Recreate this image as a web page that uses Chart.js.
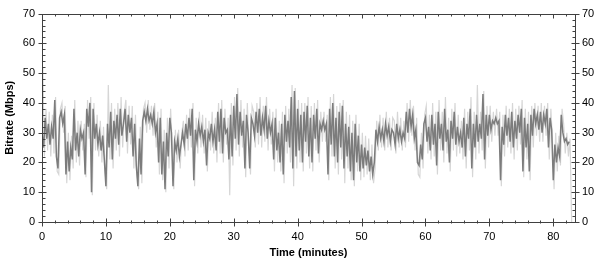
<!DOCTYPE html>
<html>
<head>
<meta charset="utf-8">
<script src="https://cdn.jsdelivr.net/npm/chart.js@4"></script>
<style>
  html, body { margin: 0; padding: 0; background: #fff; }
  #wrap { width: 600px; height: 264px; }
</style>
</head>
<body>
<div id="wrap"><canvas id="bitrate"></canvas></div>
<script>
// sample spacing of the two series, in minutes
const smoothStep = 0.25;
const rawStep = 0.25;
const rawStart = 0.125;

// smoothed bitrate (Mbps), 4 samples per minute
const smoothMbps = [
  30, 25, 35, 28,  33, 26, 32, 28,  41, 22, 18, 35,  37, 33, 36, 16,
  27, 17, 25, 21,  38, 24, 30, 22,  31, 28, 30, 16,  38, 32, 40, 10,
  38, 28, 33, 26,  30, 24, 29, 21,  12, 33, 25, 37,  21, 34, 28, 36,
  26, 38, 29, 33,  38, 27, 36, 30,  35, 22, 33, 19,  12, 28, 16, 34,
  37, 34, 38, 34,  36, 33, 37, 30,  33, 20, 35, 16,  27, 11, 30, 22,
  35, 30, 12, 27,  24, 28, 22, 26,  30, 26, 33, 28,  35, 29, 38, 14,
  31, 27, 33, 29,  32, 27, 31, 19,  30, 28, 33, 27,  31, 24, 37, 27,
  38, 23, 35, 30,  31, 21, 36, 22,  39, 28, 43, 26,  37, 29, 34, 18,
  36, 30, 18, 35,  33, 29, 37, 30,  38, 29, 35, 31,  39, 28, 34, 30,
  33, 21, 35, 24,  30, 20, 33, 16,  36, 27, 34, 25,  42, 18, 44, 22,
  38, 24, 36, 20,  37, 27, 39, 22,  35, 20, 36, 28,  38, 23, 33, 31,
  34, 31, 33, 16,  38, 26, 40, 22,  35, 20, 37, 25,  39, 18, 33, 22,
  32, 17, 30, 14,  33, 20, 29, 17,  26, 18, 25, 19,  24, 17, 22, 16,
  20, 31, 27, 32,  28, 31, 27, 33,  29, 32, 27, 31,  30, 26, 33, 28,
  31, 27, 30, 28,  37, 30, 38, 32,  36, 28, 31, 20,  19, 26, 21, 33,
  35, 27, 32, 24,  36, 26, 33, 19,  37, 28, 33, 24,  38, 27, 31, 20,
  34, 28, 37, 26,  32, 27, 30, 25,  35, 22, 33, 28,  38, 18, 33, 25,
  36, 27, 33, 28,  43, 21, 36, 29,  36, 31, 34, 33,  35, 33, 34, 14,
  32, 26, 36, 29,  35, 27, 37, 25,  34, 28, 36, 30,  38, 17, 35, 25,
  33, 17, 36, 29,  38, 33, 36, 31,  37, 30, 36, 33,  38, 25, 35, 31,
  14, 26, 20, 25,  22, 36, 30, 27,  28, 26, 27
];

// raw bitrate (Mbps), 4 samples per minute, between the smoothed ones
const rawMbps = [
  52, 22, 38, 24,  37, 22, 36, 23,  42, 17, 16, 38,  40, 30, 39, 13,
  30, 14, 29, 18,  41, 20, 34, 19,  34, 24, 33, 15,  41, 28, 42, 9,
  40, 24, 36, 22,  34, 20, 32, 17,  11, 46, 21, 40,  18, 38, 24, 40,
  22, 42, 25, 37,  41, 23, 39, 26,  39, 18, 36, 16,  11, 32, 13, 38,
  40, 30, 41, 31,  39, 29, 40, 25,  37, 16, 38, 14,  31, 10, 35, 18,
  38, 26, 11, 31,  20, 31, 18, 30,  34, 22, 36, 24,  38, 25, 40, 12,
  35, 23, 37, 25,  36, 23, 35, 17,  34, 24, 37, 23,  35, 20, 40, 23,
  41, 20, 38, 26,  35, 9, 40, 19,   42, 24, 45, 22,  41, 25, 38, 15,
  40, 26, 16, 39,  37, 25, 40, 26,  42, 25, 39, 27,  42, 24, 38, 26,
  37, 17, 38, 20,  34, 17, 37, 13,  39, 23, 38, 20,  46, 12, 45, 18,
  41, 20, 40, 17,  40, 23, 42, 18,  39, 17, 40, 24,  41, 20, 37, 27,
  37, 27, 36, 14,  42, 22, 43, 18,  39, 16, 40, 21,  41, 13, 37, 18,
  36, 14, 34, 12,  36, 17, 33, 14,  30, 15, 29, 16,  28, 14, 26, 13,
  18, 34, 24, 36,  25, 35, 24, 37,  25, 35, 24, 35,  34, 23, 37, 25,
  35, 24, 34, 25,  40, 27, 41, 29,  39, 24, 35, 16,  15, 30, 18, 36,
  39, 23, 36, 21,  40, 22, 37, 16,  41, 24, 37, 20,  42, 23, 35, 17,
  38, 24, 40, 22,  36, 23, 34, 21,  38, 18, 37, 24,  42, 15, 37, 21,
  46, 23, 37, 24,  44, 18, 39, 25,  39, 27, 37, 29,  38, 29, 37, 12,
  36, 22, 39, 25,  38, 23, 40, 21,  38, 24, 39, 26,  41, 15, 38, 21,
  37, 14, 39, 25,  40, 29, 39, 27,  40, 27, 39, 29,  40, 21, 38, 27,
  11, 30, 17, 29,  19, 38, 33, 23,  30, 22, 28, 0
];

const xMajor = [0, 10, 20, 30, 40, 50, 60, 70, 80];
const xMinor = [2, 4, 6, 8, 12, 14, 16, 18, 22, 24, 26, 28, 32, 34, 36, 38, 42, 44, 46, 48,
                52, 54, 56, 58, 62, 64, 66, 68, 72, 74, 76, 78, 82];
const yMajor = [0, 10, 20, 30, 40, 50, 60, 70];
const yMinor = [2, 4, 6, 8, 12, 14, 16, 18, 22, 24, 26, 28, 32, 34, 36, 38, 42, 44, 46, 48,
                52, 54, 56, 58, 62, 64, 66, 68];
const xMax = 83.4;

const smoothPts = smoothMbps.map((v, i) => ({ x: i * smoothStep, y: v }));
const rawPts = rawMbps.map((v, i) => ({ x: rawStart + i * rawStep, y: v }));

const axisColor = '#404040';
const font = { family: 'Liberation Sans, Arial, sans-serif', size: 11 };

// frame + tick marks crossing the axis lines
const frameTicks = {
  id: 'frameTicks',
  afterDatasetsDraw(chart) {
    const { ctx, chartArea: a, scales } = chart;
    const px = v => Math.round(scales.x.getPixelForValue(v)) + 0.5;
    const py = v => Math.round(scales.y.getPixelForValue(v)) + 0.5;
    ctx.save();
    ctx.strokeStyle = axisColor;
    ctx.lineWidth = 1;
    ctx.beginPath();
    ctx.rect(Math.round(a.left) + 0.5, Math.round(a.top) + 0.5,
             Math.round(a.right - a.left), Math.round(a.bottom - a.top));
    const b = Math.round(a.bottom) + 0.5, t = Math.round(a.top) + 0.5;
    const l = Math.round(a.left) + 0.5, r = Math.round(a.right) + 0.5;
    xMajor.forEach(v => {
      ctx.moveTo(px(v), b - 4); ctx.lineTo(px(v), b + 4);
      ctx.moveTo(px(v), t); ctx.lineTo(px(v), t + 4);
    });
    xMinor.forEach(v => {
      ctx.moveTo(px(v), b - 2); ctx.lineTo(px(v), b + 1);
      ctx.moveTo(px(v), t); ctx.lineTo(px(v), t + 2);
    });
    yMajor.forEach(v => {
      ctx.moveTo(l - 4, py(v)); ctx.lineTo(l + 4, py(v));
      ctx.moveTo(r - 4, py(v)); ctx.lineTo(r + 4, py(v));
    });
    yMinor.forEach(v => {
      ctx.moveTo(l, py(v)); ctx.lineTo(l + 3, py(v));
      ctx.moveTo(r - 3, py(v)); ctx.lineTo(r, py(v));
    });
    ctx.stroke();
    ctx.restore();
  }
};

new Chart(document.getElementById('bitrate'), {
  type: 'line',
  data: {
    datasets: [
      {
        label: 'Smoothed',
        data: smoothPts,
        borderColor: '#7c7c7c',
        borderWidth: 1.5,
        pointRadius: 0,
        tension: 0,
        order: 1
      },
      {
        label: 'Raw',
        data: rawPts,
        borderColor: '#d6d6d6',
        borderWidth: 1.2,
        pointRadius: 0,
        tension: 0,
        order: 2
      }
    ]
  },
  options: {
    responsive: true,
    maintainAspectRatio: false,
    animation: false,
    layout: { autoPadding: false, padding: { top: 10, right: 0, bottom: 0, left: 0 } },
    plugins: { legend: { display: false }, tooltip: { enabled: false } },
    scales: {
      x: {
        type: 'linear',
        min: 0,
        max: xMax,
        afterBuildTicks: s => { s.ticks = xMajor.map(v => ({ value: v })); },
        afterFit: s => { s.height = 42; },
        grid: { display: false, drawTicks: false },
        border: { display: false },
        ticks: { color: '#000', font, padding: 8, maxRotation: 0 },
        title: { display: true, text: 'Time (minutes)', color: '#000',
                 font: { ...font, weight: 'bold' }, padding: { top: 2, bottom: 4 } }
      },
      y: {
        min: 0,
        max: 70,
        afterBuildTicks: s => { s.ticks = yMajor.map(v => ({ value: v })); },
        afterFit: s => { s.width = 42; },
        grid: { display: false, drawTicks: false },
        border: { display: false },
        ticks: { color: '#000', font, padding: 7 },
        title: { display: true, text: 'Bitrate (Mbps)', color: '#000',
                 font: { ...font, weight: 'bold' }, padding: { top: 3, bottom: 2 } }
      },
      y2: {
        position: 'right',
        min: 0,
        max: 70,
        afterBuildTicks: s => { s.ticks = yMajor.map(v => ({ value: v })); },
        afterFit: s => { s.width = 25; },
        grid: { display: false, drawTicks: false },
        border: { display: false },
        ticks: { color: '#000', font, padding: 7 }
      }
    }
  },
  plugins: [frameTicks]
});
</script>
</body>
</html>
